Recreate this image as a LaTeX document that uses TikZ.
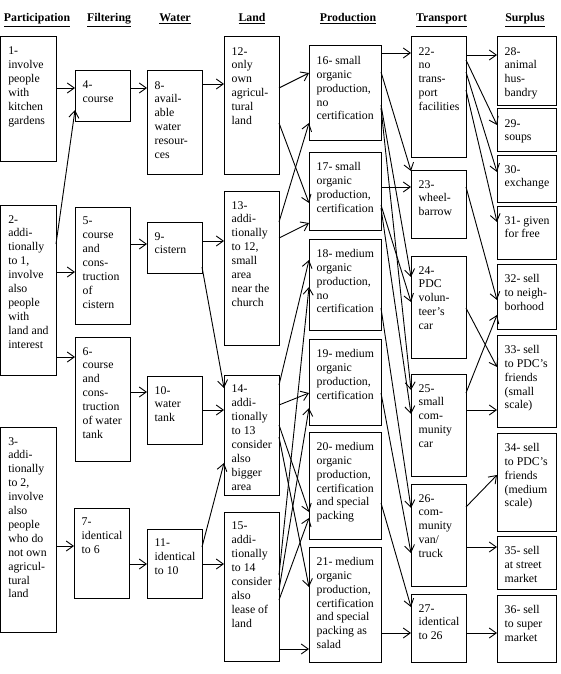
\documentclass[tikz,border=0pt]{standalone}
\usepackage{fontspec}
\setmainfont{Liberation Serif}
\usetikzlibrary{arrows.meta,calc}
\tikzset{
  boxst/.style={draw, line width=1pt, inner sep=0pt, outer sep=0pt, rectangle},
  txtst/.style={inner sep=0pt, align=left, anchor=north west, font=\fontsize{11.8}{13.9}\selectfont},
  hdst/.style={inner sep=0pt, anchor=base, font=\fontsize{11.8}{13.9}\selectfont\bfseries},
  arr/.style={line width=0.9pt, -{Straight Barb[length=7pt,width=10pt,line width=0.9pt]}}
}
\newcommand{\mybox}[6]{%
  \node[boxst, minimum width={#4pt-#2pt}, minimum height={#5pt-#3pt}, anchor=north west] (#1) at (#2,#3) {};
  \node[txtst] (#1t) at ($(#1.north west)+(7.5,10)$) {#6};
}
\newcommand{\conn}[4]{\draw[arr] (#1.east |- 0,#2) -- (#3.west |- 0,#4);}
\begin{document}
\begin{tikzpicture}[x=1pt,y=-1pt]
\useasboundingbox (0,0) rectangle (561,674);
% headers
\node[hdst] (h1) at (37,22) {\underline{Participation}};
\node[hdst] (h2) at (109,22) {\underline{Filtering}};
\node[hdst] (h3) at (175,22) {\underline{Water}};
\node[hdst] (h4) at (252,22) {\underline{Land}};
\node[hdst] (h5) at (348,22) {\underline{Production}};
\node[hdst] (h6) at (441.5,22) {\underline{Transport}};
\node[hdst] (h7) at (525,22) {\underline{Surplus}};
% column 1
\mybox{b1}{0.6}{37}{56}{161}{1-\\involve\\people\\with\\kitchen\\gardens}
\mybox{b2}{0.6}{205}{56}{375}{2-\\addi-\\tionally\\to 1,\\involve\\also\\people\\with\\land and\\interest}
\mybox{b3}{0.6}{427}{56}{632}{3-\\addi-\\tionally\\to 2,\\involve\\also\\people\\who do\\not own\\agricul-\\tural\\land}
% column 2
\mybox{b4}{75}{71}{130}{122}{4-\\course}
\mybox{b5}{75}{207}{130}{324}{5-\\course\\and\\cons-\\truction\\of\\cistern}
\mybox{b6}{75}{337}{130}{461}{6-\\course\\and\\cons-\\truction\\of water\\tank}
\mybox{b7}{74}{508}{129}{598}{7-\\identical\\to 6}
% column 3
\mybox{b8}{147}{71}{202}{174}{8-\\avail-\\able\\water\\resour-\\ces}
\mybox{b9}{147}{222}{202}{273}{9-\\cistern}
\mybox{b10}{147}{376}{202}{444}{10-\\water\\tank}
\mybox{b11}{147}{529}{202}{598}{11-\\identical\\to 10}
% column 4
\mybox{b12}{224}{37}{279}{174}{12-\\only\\own\\agricul-\\tural\\land}
\mybox{b13}{224}{191}{279}{345}{13-\\addi-\\tionally\\to 12,\\small\\area\\near the\\church}
\mybox{b14}{224}{375}{279}{495}{14-\\addi-\\tionally\\to 13\\consider\\also\\bigger\\area}
\mybox{b15}{224}{512}{279}{661}{15-\\addi-\\tionally\\to 14\\consider\\also\\lease of\\land}
% column 5
\mybox{b16}{309}{46}{381}{140}{16- small\\organic\\production,\\no\\certification}
\mybox{b17}{309}{152}{381}{230}{17- small\\organic\\production,\\certification}
\mybox{b18}{309}{239}{381}{330}{18- medium\\organic\\production,\\no\\certification}
\mybox{b19}{309}{339}{381}{425}{19- medium\\organic\\production,\\certification}
\mybox{b20}{309}{432}{381}{539}{20- medium\\organic\\production,\\certification\\and special\\packing}
\mybox{b21}{309}{547}{381}{662}{21- medium\\organic\\production,\\certification\\and special\\packing as\\salad}
% column 6
\mybox{b22}{411}{37}{466}{157}{22-\\no\\trans-\\port\\facilities}
\mybox{b23}{411}{170}{466}{238}{23-\\wheel-\\barrow}
\mybox{b24}{411}{256}{466}{358}{24-\\PDC\\volun-\\teer’s\\car}
\mybox{b25}{411}{374}{466}{476}{25-\\small\\com-\\munity\\car}
\mybox{b26}{411}{484}{466}{586}{26-\\com-\\munity\\van/\\truck}
\mybox{b27}{411}{594}{466}{662}{27-\\identical\\to 26}
% column 7
\mybox{b28}{497}{37}{556}{106}{28-\\animal\\hus-\\bandry}
\mybox{b29}{497}{109}{556}{151}{29-\\soups}
\mybox{b30}{497}{155}{556}{202}{30-\\exchange}
\mybox{b31}{497}{206}{556}{259}{31- given\\for free}
\mybox{b32}{497}{264}{556}{329}{32- sell\\to neigh-\\borhood}
\mybox{b33}{497}{335}{556}{427}{33- sell\\to PDC’s\\friends\\(small\\scale)}
\mybox{b34}{497}{433}{556}{531}{34- sell\\to PDC’s\\friends\\(medium\\scale)}
\mybox{b35}{497}{536}{556}{589}{35- sell\\at street\\market}
\mybox{b36}{497}{595}{556}{662}{36- sell\\to super\\market}
% connectors
\conn{b1}{88}{b4}{88}
\conn{b2}{244}{b4}{110}
\conn{b2}{272}{b5}{272}
\conn{b2}{357}{b6}{357}
\conn{b3}{546}{b7}{546}
\conn{b4}{88}{b8}{88}
\conn{b5}{244}{b9}{244}
\conn{b6}{392}{b10}{392}
\conn{b7}{564}{b11}{564}
\conn{b8}{84}{b12}{84}
\conn{b9}{241}{b13}{241}
\conn{b9}{267}{b14}{388}
\conn{b10}{410}{b14}{410}
\conn{b11}{547}{b14}{463}
\conn{b11}{564}{b15}{564}
\conn{b12}{88}{b16}{73}
\conn{b12}{123}{b17}{203}
\conn{b13}{222}{b16}{123}
\conn{b13}{238}{b17}{223}
\conn{b14}{385}{b18}{260}
\conn{b14}{405}{b19}{393}
\conn{b14}{425}{b20}{512}
\conn{b14}{437}{b21}{587}
\conn{b15}{575}{b18}{287}
\conn{b15}{590}{b19}{408}
\conn{b15}{600}{b20}{518}
\conn{b15}{649}{b21}{649}
\conn{b16}{53}{b22}{53}
\conn{b16}{72}{b23}{171}
\conn{b16}{105}{b24}{277}
\conn{b16}{108}{b25}{390}
\conn{b17}{187}{b23}{187}
\conn{b17}{205}{b24}{302}
\conn{b17}{208}{b25}{414}
\conn{b18}{308}{b26}{508}
\conn{b19}{393}{b26}{553}
\conn{b20}{503}{b27}{607}
\conn{b21}{633}{b27}{633}
\conn{b22}{55}{b28}{55}
\conn{b22}{60}{b29}{125}
\conn{b22}{72}{b30}{172}
\conn{b22}{90}{b31}{222}
\conn{b23}{187}{b32}{300}
\conn{b24}{308}{b33}{367}
\conn{b25}{393}{b32}{315}
\conn{b25}{410}{b33}{410}
\conn{b26}{507}{b34}{475}
\conn{b26}{547}{b35}{547}
\conn{b27}{633}{b36}{633}
\end{tikzpicture}
\end{document}
